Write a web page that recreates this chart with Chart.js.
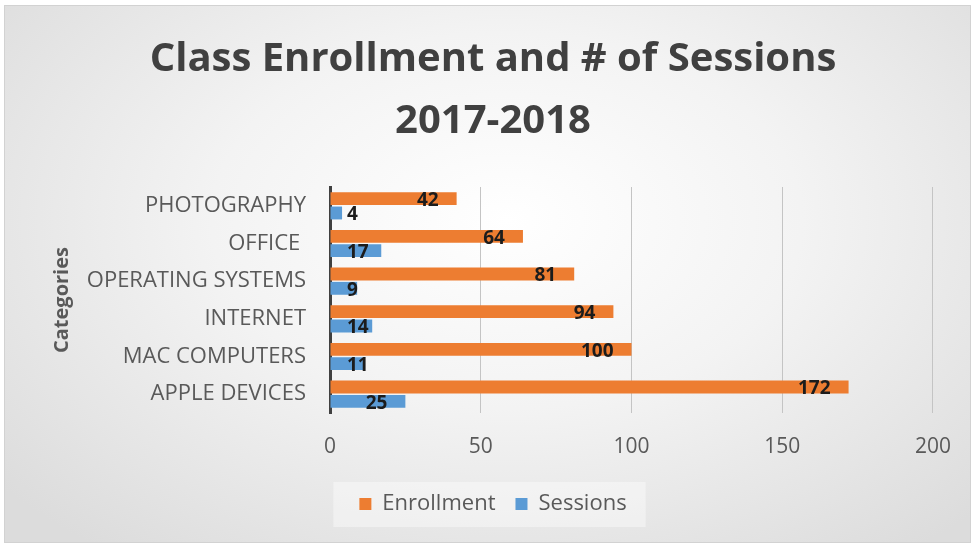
<!DOCTYPE html>
<html>
<head>
<meta charset="utf-8">
<script src="https://cdn.jsdelivr.net/npm/chart.js@4.4.1/dist/chart.umd.min.js"></script>
<style>
  html, body { margin: 0; padding: 0; background: #ffffff; }
  #frame {
    position: absolute; left: 4px; top: 5px; width: 965px; height: 536px;
    border: 1px solid #d2d2d2;
    background: radial-gradient(ellipse 68% 78% at 52% 40%, #ffffff 0%, #f3f3f3 45%, #dcdcdc 100%);
  }
  #wrap { position: absolute; left: 0; top: 0; width: 972px; height: 543px; }
</style>
</head>
<body>
<div id="frame"></div>
<div id="wrap"><canvas id="myChart" width="972" height="543"></canvas></div>
<script>
const categories = ['PHOTOGRAPHY', 'OFFICE ', 'OPERATING SYSTEMS', 'INTERNET', 'MAC COMPUTERS', 'APPLE DEVICES'];
const enrollment = [42, 64, 81, 94, 100, 172];
const sessions = [4, 17, 9, 14, 11, 25];
const xTicks = [0, 50, 100, 150, 200];

const FONT = '"Open Sans", "Noto Sans", sans-serif';

// values written near the end of each bar, like Excel "inside end"
const barLabels = {
    id: 'barLabels',
    afterDatasetsDraw(chart) {
        const ctx = chart.ctx;
        const x0 = chart.scales.x.getPixelForValue(0);
        ctx.save();
        ctx.font = 'bold 19px ' + FONT;
        ctx.fillStyle = '#1c1c1c';
        ctx.textBaseline = 'middle';
        ctx.textAlign = 'left';
        chart.data.datasets.forEach((ds, i) => {
            chart.getDatasetMeta(i).data.forEach((bar, j) => {
                const txt = String(ds.data[j]);
                const w = ctx.measureText(txt).width;
                const left = Math.max(bar.x - 18 - w, x0 + 17);
                ctx.fillText(txt, left, bar.y + 2);
            });
        });
        ctx.restore();
    }
};

// light box behind the legend
const legendBox = {
    id: 'legendBox',
    beforeDraw(chart) {
        const boxes = chart.legend && chart.legend.legendHitBoxes;
        if (!boxes || !boxes.length) return;
        let l = Infinity, t = Infinity, r = -Infinity, b = -Infinity;
        boxes.forEach(h => {
            l = Math.min(l, h.left); t = Math.min(t, h.top);
            r = Math.max(r, h.left + h.width); b = Math.max(b, h.top + h.height);
        });
        const cy = (t + b) / 2;
        const ctx = chart.ctx;
        ctx.save();
        ctx.fillStyle = 'rgba(255,255,255,0.4)';
        ctx.fillRect(l - 26, cy - 22, (r - l) + 45, 45);
        ctx.restore();
    }
};

const ctx = document.getElementById('myChart').getContext('2d');

const myChart = new Chart(ctx, {
    type: 'bar',
    data: {
        labels: categories,
        datasets: [{
            label: 'Enrollment',
            data: enrollment,
            backgroundColor: '#ED7D31',
            barPercentage: 0.9,
            categoryPercentage: 0.76
        }, {
            label: 'Sessions',
            data: sessions,
            backgroundColor: '#5B9BD5',
            barPercentage: 0.9,
            categoryPercentage: 0.76
        }]
    },
    options: {
        indexAxis: 'y',
        responsive: false,
        maintainAspectRatio: false,
        animation: false,
        layout: {
            padding: {left: 50, right: 36, top: 0, bottom: 18}
        },
        scales: {
            x: {
                min: 0,
                max: 200,
                afterBuildTicks: (axis) => { axis.ticks = xTicks.map(v => ({value: v})); },
                afterFit: (axis) => { axis.height = 60; },
                grid: {
                    color: (c) => c.tick && c.tick.value === 0 ? 'rgba(0,0,0,0)' : '#c4c4c4',
                    lineWidth: 1,
                    drawTicks: false
                },
                border: {display: false},
                ticks: {
                    color: '#595959',
                    padding: 21,
                    font: {family: FONT, size: 21}
                }
            },
            y: {
                afterFit: (axis) => { axis.width = 280; },
                grid: {display: false, drawTicks: false},
                border: {display: true, color: '#404040', width: 3},
                ticks: {
                    color: '#595959',
                    padding: 24,
                    font: {family: FONT, size: 22}
                },
                title: {
                    display: true,
                    text: 'Categories',
                    color: '#595959',
                    font: {family: FONT, size: 20, weight: 'bold'},
                    padding: {top: 0, bottom: 4}
                }
            }
        },
        plugins: {
            title: {
                display: true,
                text: ['Class Enrollment and # of Sessions', '2017-2018'],
                color: '#404040',
                font: {family: FONT, size: 40, weight: 'bold', lineHeight: 1.55},
                padding: {top: 29, bottom: 34}
            },
            legend: {
                position: 'bottom',
                labels: {
                    color: '#595959',
                    boxWidth: 12,
                    boxHeight: 12,
                    padding: 20,
                    font: {family: FONT, size: 22}
                }
            },
            tooltip: {enabled: false}
        }
    },
    plugins: [legendBox, barLabels]
});
</script>
</body>
</html>
